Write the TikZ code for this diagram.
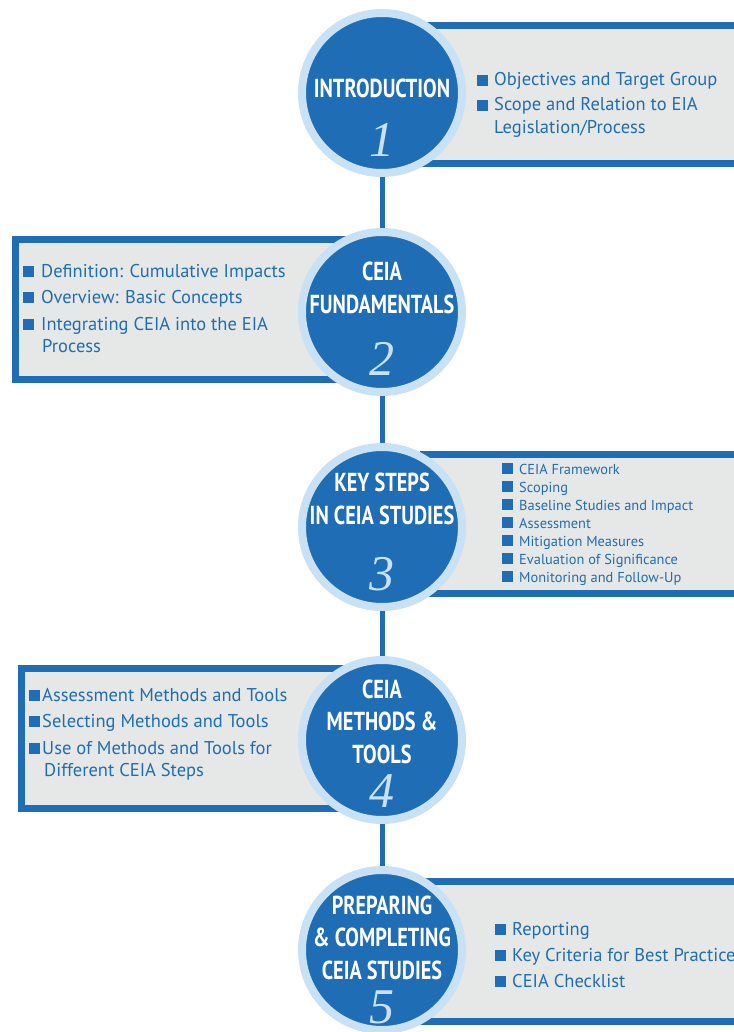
\documentclass[tikz,border=0pt]{standalone}
\usepackage{fontspec}
\setmainfont{PT Sans}
\newfontfamily\headfont[FakeStretch=0.78]{PT Sans}
\newfontfamily\numfont{Liberation Serif}
\usepackage{xcolor}
\definecolor{ceiablue}{HTML}{1F6DB4}
\definecolor{ceialight}{HTML}{C8E1F5}
\definecolor{ceiagray}{HTML}{E6E7E7}
\newcommand{\bul}[1][6pt]{\rule{11pt}{11pt}\hspace{#1}}

\begin{document}
\begin{tikzpicture}[x=1pt, y=-1pt,
  panel/.style={draw=ceiablue, line width=7pt, fill=ceiagray},
  stepcircle/.style={circle, draw=ceialight, line width=8pt, fill=ceiablue, minimum size=160pt, inner sep=0pt},
  link/.style={draw=ceiablue, line width=5pt},
  steptitle/.style={text=white, font=\headfont\bfseries\fontsize{26}{32.5}\selectfont, align=center, anchor=base, inner sep=0pt},
  stepnum/.style={text=ceialight, font=\numfont\itshape\fontsize{50}{50}\selectfont, anchor=base, inner sep=0pt},
  listitem/.style={text=ceiablue, font=\fontsize{18.5}{20}\selectfont, anchor=base west, inner sep=0pt},
  smallitem/.style={listitem, font=\fontsize{14.4}{16}\selectfont}]
\useasboundingbox (0,0) rectangle (733,1032);
% 1: Introduction
\draw[panel] (423.5,25.5) rectangle (745,163.5);
\node[stepcircle] (c1) at (382,93) {};
\node[steptitle] (t1) at (382,98) {INTRODUCTION};
\node[stepnum] (n1) at (382,157) {1};
\node[listitem] (i1a) at (477,86) {\bul Objectives and Target Group};
\node[listitem] (i1b) at (477,111) {\bul Scope and Relation to EIA};
\node[listitem] (i1c) at (494,134) {Legislation/Process};
% 2: Fundamentals (base = last line)
\draw[panel] (15.5,239.5) rectangle (350,379.5);
\node[stepcircle] (c2) at (382,312) {};
\node[steptitle] (t2) at (382,313) {CEIA\\FUNDAMENTALS};
\node[stepnum] (n2) at (382,375) {2};
\node[listitem] (i2a) at (23,277) {\bul[7pt]Definition: Cumulative Impacts};
\node[listitem] (i2b) at (23,303) {\bul[7pt]Overview: Basic Concepts};
\node[listitem] (i2c) at (23,330) {\bul[7pt]Integrating CEIA into the EIA};
\node[listitem] (i2d) at (42,352) {Process};
% 3: Key steps
\draw[panel] (423.5,454.5) rectangle (745,593.5);
\node[stepcircle] (c3) at (382,527) {};
\node[steptitle] (t3) at (382,524) {KEY STEPS\\IN CEIA STUDIES};
\node[stepnum] (n3) at (382,590) {3};
\node[smallitem] (i3a) at (502,474) {\bul CEIA Framework};
\node[smallitem] (i3b) at (502,492) {\bul Scoping};
\node[smallitem] (i3c) at (502,510) {\bul Baseline Studies and Impact};
\node[smallitem] (i3d) at (502,528) {\bul Assessment};
\node[smallitem] (i3e) at (502,546) {\bul Mitigation Measures};
\node[smallitem] (i3f) at (502,564) {\bul Evaluation of Significance};
\node[smallitem] (i3g) at (502,582) {\bul Monitoring and Follow-Up};
% 4: Methods and tools
\draw[panel] (21.5,668.5) rectangle (350,808.5);
\node[stepcircle] (c4) at (382,740) {};
\node[steptitle] (t4) at (382,763) {CEIA\\METHODS \&\\TOOLS};
\node[stepnum] (n4) at (382,807) {4};
\node[listitem] (i4a) at (29,701) {\bul[2pt]Assessment Methods and Tools};
\node[listitem] (i4b) at (29,727) {\bul[2pt]Selecting Methods and Tools};
\node[listitem] (i4c) at (29,754) {\bul[2pt]Use of Methods and Tools for};
\node[listitem] (i4d) at (44,776) {Different CEIA Steps};
% 5: Preparing and completing
\draw[panel] (423.5,881.5) rectangle (745,1021.5);
\node[stepcircle] (c5) at (382,950) {};
\node[steptitle] (t5) at (382,979) {PREPARING\\\& COMPLETING\\CEIA STUDIES};
\node[stepnum] (n5) at (382,1023) {5};
\node[listitem] (i5a) at (495,935) {\bul Reporting};
\node[listitem] (i5b) at (495,961) {\bul Key Criteria for Best Practice};
\node[listitem] (i5c) at (495,987) {\bul CEIA Checklist};
% connectors
\draw[link] (c1) -- (c2);
\draw[link] (c2) -- (c3);
\draw[link] (c3) -- (c4);
\draw[link] (c4) -- (c5);
\end{tikzpicture}
\end{document}
